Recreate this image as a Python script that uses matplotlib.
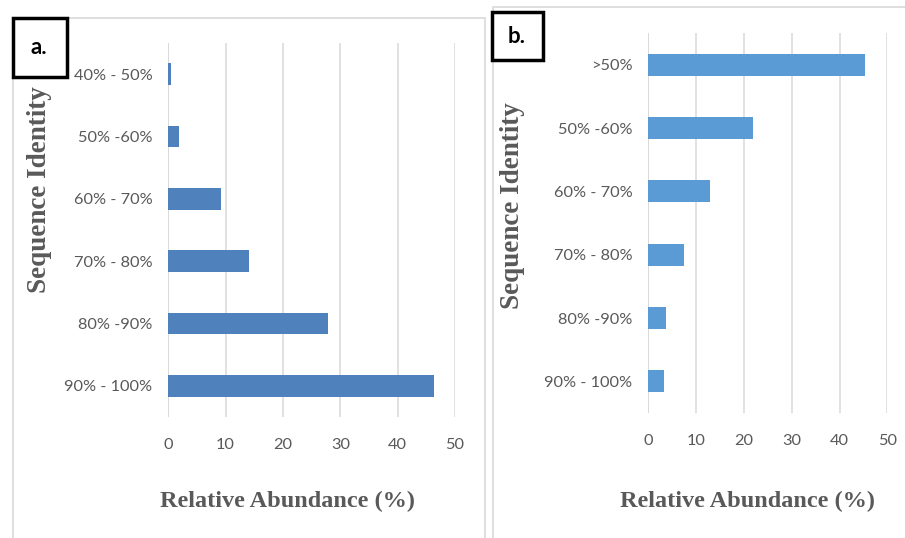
import matplotlib
matplotlib.use("Agg")
import matplotlib.pyplot as plt
from matplotlib.patches import Rectangle

# ── Data ──────────────────────────────────────────────────────────────────────
a_labels = ["40% - 50%", "50% -60%", "60% - 70%", "70% - 80%", "80% -90%", "90% - 100%"]
a_values = [0.4, 1.9, 9.2, 14.0, 27.9, 46.4]

b_labels = [">50%", "50% -60%", "60% - 70%", "70% - 80%", "80% -90%", "90% - 100%"]
b_values = [45.3, 21.8, 13.0, 7.4, 3.7, 3.2]

x_ticks = [0, 10, 20, 30, 40, 50]

# ── Style ─────────────────────────────────────────────────────────────────────
W, H = 905, 538
TEXT_GRAY = "#595959"
GRID_GRAY = "#d9d9d9"
TICK_FONT = "Lato"
TITLE_FONT = "Liberation Serif"

fig = plt.figure(figsize=(W / 100, H / 100), dpi=100)
fig.patch.set_facecolor("white")


def px_box(left, top, right, bottom):
    """Pixel box (origin top-left) -> figure fraction [l, b, w, h]."""
    return [left / W, 1 - bottom / H, (right - left) / W, (bottom - top) / H]


def fx(x):
    return x / W


def fy(y):
    return 1 - y / H


def panel(box, labels, values, color, ylabel_xy, xlabel_xy):
    ax = fig.add_axes(px_box(*box))
    ypos = range(len(labels))
    ax.barh(ypos, values, height=0.35, color=color, zorder=3)
    ax.set_xlim(0, 50)
    ax.set_ylim(len(labels) - 0.5, -0.5)
    ax.set_xticks(x_ticks)
    ax.set_yticks(list(ypos))
    ax.set_yticklabels(labels)
    ax.grid(axis="x", color=GRID_GRAY, linewidth=1.1, zorder=0)
    ax.axvline(0, color=GRID_GRAY, linewidth=1.1, zorder=1)
    for s in ax.spines.values():
        s.set_visible(False)
    ax.tick_params(axis="both", length=0, labelcolor=TEXT_GRAY, labelsize=11.8)
    ax.tick_params(axis="y", pad=11.5)
    ax.tick_params(axis="x", pad=15)
    for t in ax.get_xticklabels() + ax.get_yticklabels():
        t.set_fontfamily(TICK_FONT)
    fig.text(fx(ylabel_xy[0]), fy(ylabel_xy[1]), "Sequence Identity", rotation=90,
             ha="center", va="center", fontsize=19.5, fontweight="bold",
             family=TITLE_FONT, color=TEXT_GRAY)
    fig.text(fx(xlabel_xy[0]), fy(xlabel_xy[1]), "Relative Abundance (%)",
             ha="center", va="center", fontsize=17.5, fontweight="bold",
             family=TITLE_FONT, color=TEXT_GRAY)
    return ax


def frame(left, top, right, bottom, color, lw):
    fig.add_artist(Rectangle((fx(left), fy(bottom)), fx(right - left), (bottom - top) / H,
                             transform=fig.transFigure, fill=False,
                             edgecolor=color, linewidth=lw, zorder=5))


# outer panel borders
frame(12.5, 17.5, 485, 560, GRID_GRAY, 1.2)
frame(492.7, 7, 930, 560, GRID_GRAY, 1.2)

# ── Panel a ───────────────────────────────────────────────────────────────────
panel((168.3, 43, 455, 417), a_labels, a_values, "#4f81bd", (40, 190), (288, 501))

# ── Panel b ───────────────────────────────────────────────────────────────────
panel((648.3, 33, 887.3, 413), b_labels, b_values, "#5b9bd5", (512, 206), (748, 501))

# panel tags
frame(13, 18, 67, 77, "black", 2.5)
fig.text(fx(39), fy(47), "a.", ha="center", va="center", fontsize=16,
         fontweight="bold", family=TICK_FONT, color="black", zorder=6)
frame(492, 12, 543, 60, "black", 2.5)
fig.text(fx(517), fy(37), "b.", ha="center", va="center", fontsize=16,
         fontweight="bold", family=TICK_FONT, color="black", zorder=6)

fig.savefig("out.png", dpi=100, facecolor="white")
